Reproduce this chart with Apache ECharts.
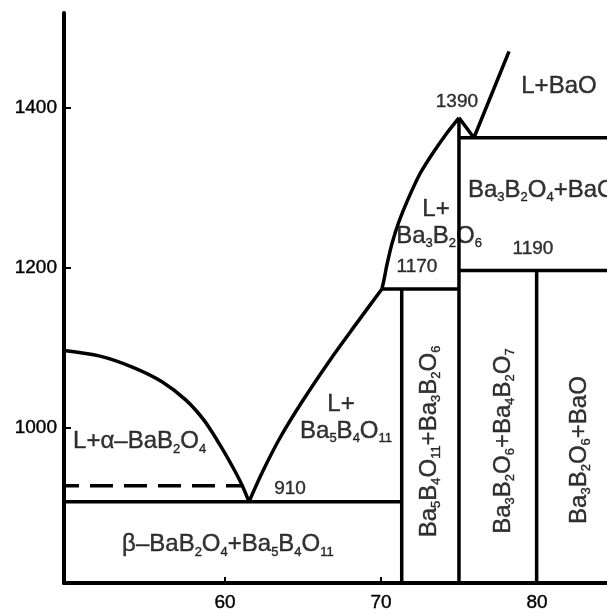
<!DOCTYPE html>
<html><head><meta charset="utf-8">
<script src="https://cdn.jsdelivr.net/npm/echarts@6/dist/echarts.min.js"></script>
<style>html,body{margin:0;padding:0;background:#fff}#c{width:607px;height:613px}</style>
</head><body><div id="c"></div>
<script>
// ---- axis ticks ----
const xTicks = [60, 70, 80];
const yTicks = [1000, 1200, 1400];
const xRange = [49.68, 84.49];
const yRange = [805.4, 1518];

// ---- phase boundaries: [mol% BaO, T °C] ----
const liquidusAlpha = [[49.68,1096],[51.99,1089],[54.10,1075],[55.96,1057],[57.50,1034],[58.65,1009],[59.62,980],[60.45,952],[61.09,928],[61.54,907]];
const liquidusBa5 = [[61.54,907],[62.37,943],[63.53,987],[64.94,1032],[66.73,1084],[68.40,1129],[70.06,1173]];
const liquidusBa3 = [[70.06,1173],[70.19,1184],[70.38,1203],[70.71,1230],[71.15,1257],[71.73,1285],[72.50,1317],[73.33,1343],[74.23,1368],[75.0,1387]];
const liquidusBaO = [[75.0,1387],[75.96,1362],[78.21,1470]];
const alphaBetaLine = [[49.68,927],[61.09,927]];
const eutecticLine = [[49.68,907],[71.33,907]];
const line1170 = [[70.06,1173],[75,1173]];
const line1190 = [[75,1196],[84.49,1196]];
const line1362 = [[75,1362],[84.49,1362]];
const vert71 = [[71.33,1173],[71.33,805.4]];
const vert75 = [[75,1387],[75,805.4]];
const vert80 = [[79.98,1196],[79.98,805.4]];

// ---- annotations ----
const labelTexts = ['L+α–BaB_2O_4','β–BaB_2O_4+Ba_5B_4O_11','L+','Ba_5B_4O_11','L+','Ba_3B_2O_6',
  'Ba_3B_2O_4+BaO','L+BaO','#910','#1170','#1190','#1390',
  'Ba_5B_4O_11+Ba_3B_2O_6','Ba_3B_2O_6+Ba_4B_2O_7','Ba_3B_2O_6+BaO'];
const labelX = [50.26, 60.19, 67.44, 67.76, 73.53, 73.72, 75.58, 81.41, 64.17, 72.31, 79.74, 74.87, 73.08, 77.82, 82.69];
const labelY = [982, 853.4, 1028.4, 995.4, 1272.3, 1239.1, 1296.6, 1426, 923.5, 1200.4, 1222.9, 1406.6, 982.3, 982.9, 971.6];
const labelAlign = ['left','center','center','center','center','center','left','center','center','center','center','center','center','center','center'];
const labelRotate = [0,0,0,0,0,0,0,0,0,0,0,0,90,90,90];

const FONT = 'Arial, "Liberation Sans", sans-serif';

function chem(str){
  if (str[0] === '#') return '{n|' + str.slice(1) + '}';
  let out = '';
  const re = /_(\d+)|([^_]+?)(?=_|$)/g;
  let m;
  while ((m = re.exec(str)) !== null){
    if (m[1]) out += '{s|' + m[1] + '}';
    else if (m[2]) out += '{m|' + m[2] + '}';
  }
  return out;
}

const lineStyle = {color:'#000', width:3.5};
function lineSeries(data, smooth, extra){
  return Object.assign({
    type:'line', data:data, showSymbol:false, symbol:'none', smooth:smooth || false,
    lineStyle:Object.assign({}, lineStyle), silent:true, z:3, animation:false
  }, extra || {});
}

const TB = {textBorderColor:'#000', textBorderWidth:0.4};
const series = [
  lineSeries(liquidusAlpha, 0.3),
  lineSeries(liquidusBa5, 0.3),
  lineSeries(liquidusBa3, 0.3),
  lineSeries(liquidusBaO, false),
  lineSeries(alphaBetaLine, false, {lineStyle:{color:'#000', width:3.5, type:[23,11], dashOffset:8}}),
  lineSeries(eutecticLine),
  lineSeries(line1170),
  lineSeries(line1190),
  lineSeries(line1362),
  lineSeries(vert71),
  lineSeries(vert75),
  lineSeries(vert80),
  {
    type:'scatter', symbolSize:0, silent:true, z:5, animation:false,
    data: labelTexts.map((t,i)=>({
      value:[labelX[i], labelY[i]],
      label:{show:true, position:'inside', formatter:chem(t), align:labelAlign[i], verticalAlign:'middle', rotate:labelRotate[i]}
    })),
    label:{
      color:'#000', fontFamily:FONT,
      rich:{
        m:Object.assign({fontSize:24, lineHeight:28, color:'#000', fontFamily:FONT}, TB),
        s:Object.assign({fontSize:13, lineHeight:19, verticalAlign:'bottom', color:'#000', fontFamily:FONT}, TB),
        n:Object.assign({fontSize:19, lineHeight:22, color:'#000', fontFamily:FONT}, TB)
      }
    }
  }
];

const chart = echarts.init(document.getElementById('c'), null, {renderer:'canvas'});
chart.setOption({
  backgroundColor:'#fff',
  animation:false,
  grid:{left:64, right:0, top:13, bottom:30, containLabel:false},
  xAxis:{
    type:'value', min:xRange[0], max:xRange[1],
    axisLine:{show:true, onZero:false, lineStyle:{color:'#000', width:4}},
    axisTick:{show:true, inside:true, length:6, lineStyle:{color:'#000', width:2}, customValues:xTicks},
    axisLabel:{show:true, customValues:xTicks, margin:10, fontSize:19, color:'#000', fontFamily:FONT,
      formatter:v=>String(v), textBorderColor:'#000', textBorderWidth:0.4},
    splitLine:{show:false}
  },
  yAxis:{
    type:'value', min:yRange[0], max:yRange[1],
    axisLine:{show:true, onZero:false, lineStyle:{color:'#000', width:4}},
    axisTick:{show:true, inside:true, length:7, lineStyle:{color:'#000', width:2}, customValues:yTicks},
    axisLabel:{show:true, customValues:yTicks, margin:7, fontSize:19, color:'#000', fontFamily:FONT,
      formatter:v=>String(v), textBorderColor:'#000', textBorderWidth:0.4},
    splitLine:{show:false}
  },
  series:series
});
</script>
</body></html>
